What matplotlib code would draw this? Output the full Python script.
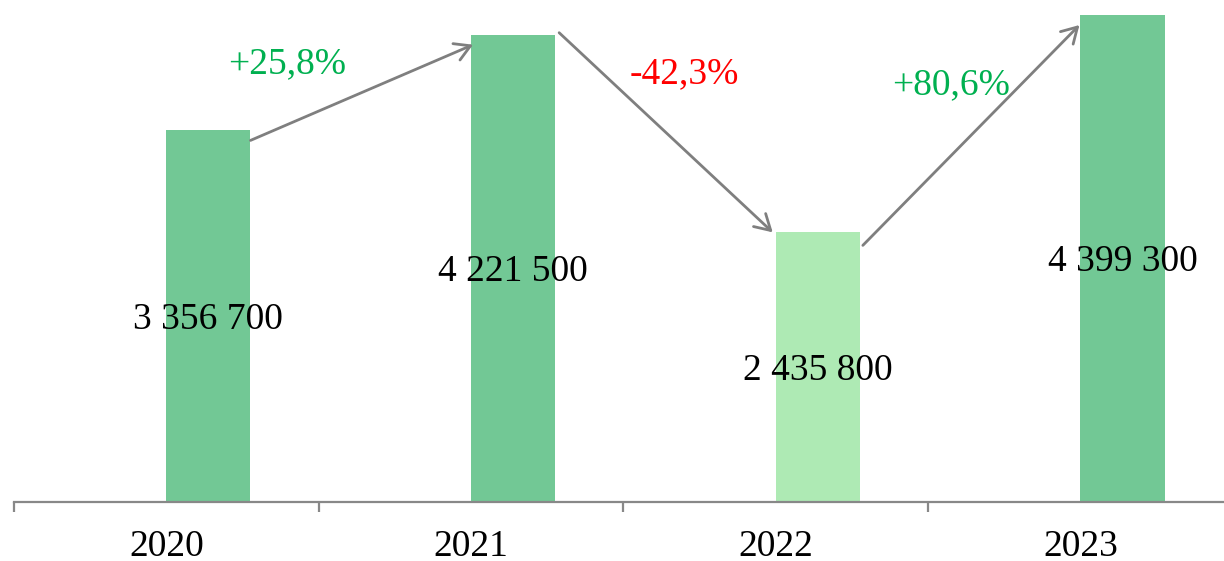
import matplotlib
matplotlib.use("Agg")
import matplotlib.pyplot as plt

# Data
years = ["2020", "2021", "2022", "2023"]
revenue = [3356700, 4221500, 2435800, 4399300]
change_labels = ["+25,8%", "-42,3%", "+80,6%"]

BAR_COLOR = "#72C895"
BAR_LIGHT = "#AEEAB4"
bar_colors = [BAR_COLOR, BAR_COLOR, BAR_LIGHT, BAR_COLOR]
change_colors = ["#00B050", "#FF0000", "#00B050"]

SERIF = ["Liberation Serif", "DejaVu Serif"]
FS = 27

W, H, DPI = 1224, 561, 100
fig = plt.figure(figsize=(W / DPI, H / DPI), dpi=DPI)

ax_left_px, ax_base_px, cat_px = 14, 502, 304.7
ax_w_px = 4 * cat_px
ax_h_px = ax_base_px
ax = fig.add_axes([ax_left_px / W, (H - ax_base_px) / H, ax_w_px / W, ax_h_px / H])

ymax = 4.535e6
ax.set_xlim(-0.5, 3.5)
ax.set_ylim(0, ymax)

# pixel -> data helpers for fine offsets
px_x = 1.0 / cat_px
px_y = ymax / ax_h_px

bar_w = 0.276
x = list(range(len(years)))
ax.bar(x, revenue, width=bar_w, align="edge", color=bar_colors, zorder=2)

# Value labels centred in each bar
for xi, v in zip(x, revenue):
    txt = f"{v:,}".replace(",", " ")
    ax.text(xi + bar_w / 2, v / 2 - 12.5 * px_y, txt, ha="center", va="baseline",
            fontsize=FS, family=SERIF, color="black", zorder=3)

# Arrows between consecutive bars
arrow_offsets = [((0, -10), (2, -10)), ((4, 2), (-3, 0)), ((3, -13), (-1, -10))]
for i, ((sx, sy), (ex, ey)) in enumerate(arrow_offsets):
    start = (x[i] + bar_w + sx * px_x, revenue[i] + sy * px_y)
    end = (x[i + 1] + ex * px_x, revenue[i + 1] + ey * px_y)
    ax.annotate("", xy=end, xytext=start,
                arrowprops=dict(arrowstyle="->,head_length=0.55,head_width=0.32",
                                color="#7F7F7F", lw=2.0, mutation_scale=20,
                                shrinkA=0, shrinkB=0),
                zorder=4)

# Percentage change labels
change_pos = [(0.396, 3.99e6), (1.699, 3.90e6), (2.575, 3.80e6)]
for (cx, cy), lab, col in zip(change_pos, change_labels, change_colors):
    ax.text(cx, cy - 12.5 * px_y, lab, ha="center", va="baseline",
            fontsize=FS, family=SERIF, color=col, zorder=5)

# Axis styling
for s in ("left", "right", "top"):
    ax.spines[s].set_visible(False)
ax.spines["bottom"].set_color("#888888")
ax.spines["bottom"].set_linewidth(1.6)
ax.spines["bottom"].set_zorder(3)
ax.set_yticks([])
ax.set_xticks(x)
ax.set_xticklabels(years, fontsize=FS, family=SERIF)
ax.tick_params(axis="x", which="major", length=0, pad=20)
ax.set_xticks([-0.5, 0.5, 1.5, 2.5, 3.5], minor=True)
ax.tick_params(axis="x", which="minor", length=7, width=1.6, color="#888888", direction="out")

fig.savefig("out.png", dpi=DPI)
